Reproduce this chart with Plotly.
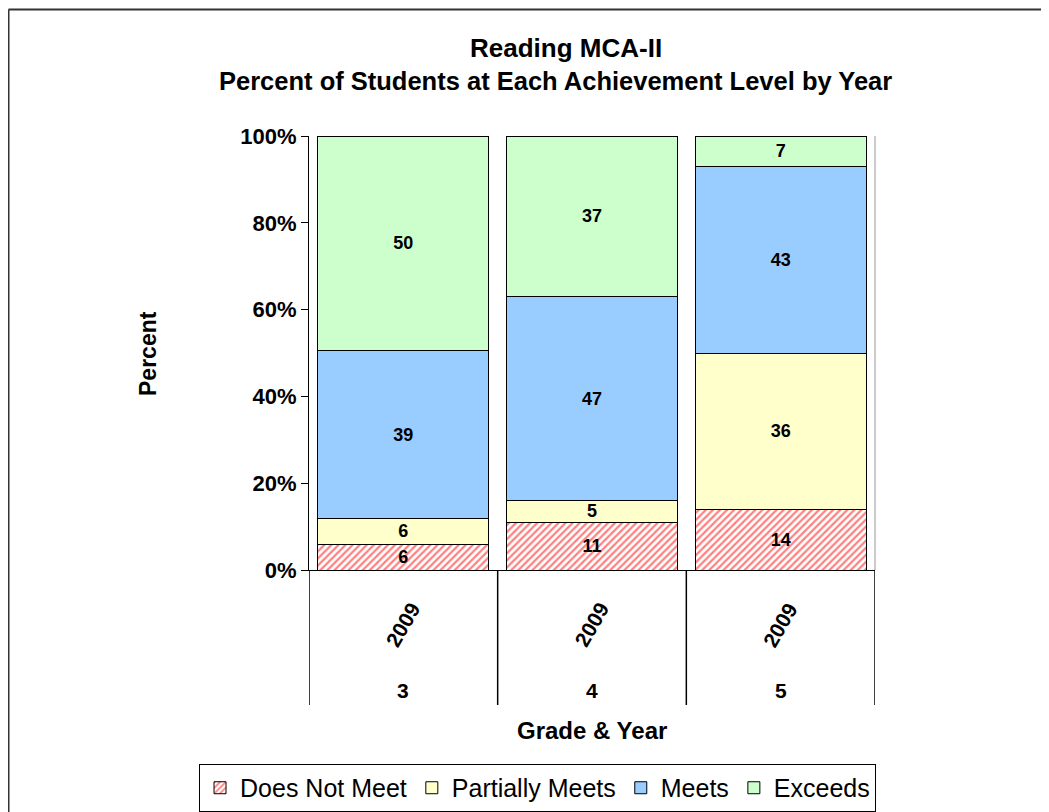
import plotly.graph_objects as go

grades = ["3", "4", "5"]
years = ["2009", "2009", "2009"]
series_names = ["Does Not Meet", "Partially Meets", "Meets", "Exceeds"]
does_not_meet = [6, 11, 14]
partially_meets = [6, 5, 36]
meets = [39, 47, 43]
exceeds = [50, 37, 7]
y_ticks = [0, 20, 40, 60, 80, 100]

FONT = "Liberation Sans, Arial, sans-serif"
x_pos = list(range(len(grades)))

fig = go.Figure()
series_vals = [does_not_meet, partially_meets, meets, exceeds]
colors = ["#FFFFFF", "#FFFFCC", "#99CCFF", "#CCFFCC"]
for i, (name, vals, col) in enumerate(zip(series_names, series_vals, colors)):
    marker = dict(color=col, line=dict(color="black", width=1))
    if i == 0:
        marker["pattern"] = dict(shape="/", fgcolor="#FF0000", bgcolor="#FFFFFF",
                                 size=5, solidity=0.45, fillmode="overlay")
    fig.add_trace(go.Bar(
        x=x_pos, y=vals, name=name, marker=marker,
        text=[str(v) for v in vals], textposition="inside",
        insidetextanchor="middle", textangle=0,
        textfont=dict(family=FONT, size=18, color="black", weight="bold"),
        hoverinfo="skip",
    ))

fig.update_layout(
    barmode="stack", barnorm="percent", bargap=0.095,
    width=1041, height=804,
    margin=dict(l=301, r=174, t=128, b=242, autoexpand=False),
    paper_bgcolor="white", plot_bgcolor="white",
    font=dict(family=FONT, color="black"),
    uniformtext=dict(mode="show", minsize=18),
    showlegend=True,
    legend=dict(orientation="h", x=-0.1943, y=-0.5023, xanchor="left", yanchor="middle",
                bordercolor="black", borderwidth=1, bgcolor="white",
                font=dict(family=FONT, size=25, color="black"),
                itemwidth=30, traceorder="normal"),
)
fig.update_xaxes(range=[-0.5, len(grades) - 0.5], showticklabels=False, ticks="",
                 showline=True, linecolor="black", linewidth=1, showgrid=False,
                 zeroline=False, fixedrange=True)
fig.update_yaxes(range=[0, 100], tickvals=y_ticks, ticktext=[f"{t}%" for t in y_ticks],
                 showline=True, linecolor="black", linewidth=1, ticks="outside",
                 ticklen=7, tickcolor="black", showgrid=False, zeroline=False,
                 tickfont=dict(family=FONT, size=22, color="black", weight="bold"))

ann = []
common = dict(showarrow=False, xanchor="center", yanchor="middle")
ann.append(dict(text="Reading MCA-II", x=0.454, y=1.2028, xref="paper", yref="paper",
                font=dict(family=FONT, size=26, weight="bold"), **common))
ann.append(dict(text="Percent of Students at Each Achievement Level by Year", x=0.4355, y=1.1267,
                xref="paper", yref="paper",
                font=dict(family=FONT, size=25.5, weight="bold"), **common))
ann.append(dict(text="Percent", x=-0.2845, y=0.5, xref="paper", yref="paper", textangle=-90,
                font=dict(family=FONT, size=23, weight="bold"), **common))
ann.append(dict(text="Grade & Year", x=0.5, y=-0.3687, xref="paper", yref="paper",
                font=dict(family=FONT, size=24, weight="bold"), **common))
for xi, g, yr in zip(x_pos, grades, years):
    ann.append(dict(text=yr, x=xi, y=-0.1267, xref="x", yref="paper", textangle=-60,
                    font=dict(family=FONT, size=21, weight="bold"), **common))
    ann.append(dict(text=g, x=xi, y=-0.2788, xref="x", yref="paper",
                    font=dict(family=FONT, size=21, weight="bold"), **common))
fig.update_layout(annotations=ann)

shapes = []
for k in range(len(grades) + 1):
    shapes.append(dict(type="line", xref="x", yref="paper", x0=k - 0.5, x1=k - 0.5,
                       y0=0, y1=-0.311, line=dict(color="black", width=1.5)))
shapes.append(dict(type="line", xref="paper", yref="paper", x0=1, x1=1, y0=0, y1=1,
                   line=dict(color="#BBBBBB", width=1.5)))
# outer chart border (top and left visible)
shapes.append(dict(type="line", xref="paper", yref="paper", x0=-0.5309, x1=1.4, y0=1.2915,
                   y1=1.2915, line=dict(color="#333333", width=2)))
shapes.append(dict(type="line", xref="paper", yref="paper", x0=-0.5309, x1=-0.5309, y0=1.2915,
                   y1=-0.6, line=dict(color="#333333", width=2)))
fig.update_layout(shapes=shapes)

fig.write_html("out.html")
